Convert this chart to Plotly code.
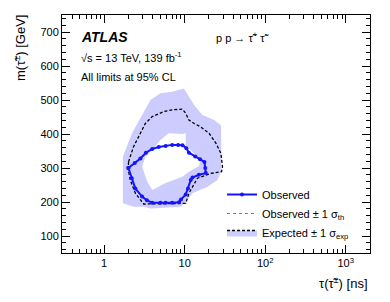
import plotly.graph_objects as go

# ---- data (tau lifetime [ns], stau mass [GeV]) ----
obs_tau = [2.0, 2.4, 2.82, 3.3, 3.95, 4.77, 5.8, 7.0, 8.3, 9.4, 10.5, 11.3, 13.5, 15.5, 17.6,
           18.0, 18.3, 15.0, 12.5, 11.9, 11.0, 10.3, 9.0, 8.5, 7.0, 5.8, 5.0, 3.95, 3.4, 2.96,
           2.44, 2.2, 2.0]
obs_mass = [300, 315, 328, 345, 356, 362, 365, 368, 368, 367, 358, 345, 334, 326, 318,
            300, 285, 280, 272, 265, 240, 222, 207, 199, 198, 198, 198, 198, 205, 216,
            240, 270, 300]

exp_tau = [2.01, 2.32, 2.82, 3.25, 3.95, 5.5, 7.0, 9.36, 10.3, 11.3, 13.1, 15.8, 20.1, 24.4,
           28.2, 29.5, 28.7, 21.1, 14.4, 12.5, 11.3, 10.3, 3.1, 2.44, 2.11, 2.0, 2.01]
exp_mass = [318, 363, 402, 431, 451, 466, 471, 473, 461, 441, 431, 421, 402, 373,
            343, 304, 289, 284, 270, 245, 226, 196, 194, 226, 265, 294, 318]

band_out_tau = [1.71, 1.71, 2.22, 2.96, 3.76, 5.0, 7.0, 9.8, 11.0, 13.1, 16.6, 23.2, 28.2,
                28.7, 28.7, 25.6, 19.2, 12.5, 10.8, 8.9, 3.76, 3.1, 2.33, 1.71]
band_out_mass = [196, 333, 402, 456, 500, 520, 524, 534, 515, 485, 456, 441, 426,
                 363, 294, 265, 245, 226, 206, 186, 181, 186, 186, 196]

band_in_tau = [2.96, 3.25, 3.95, 5.0, 6.36, 9.36, 10.3, 10.3, 12.6, 15.8, 15.0, 11.2, 9.36,
               5.79, 3.98, 3.45, 2.96]
band_in_mass = [304, 332, 353, 382, 402, 400, 402, 368, 347, 323, 306, 288, 274,
                256, 235, 259, 304]

x_major = [1, 10, 100, 1000]
x_major_labels = ["1", "10", "10<sup>2</sup>", "10<sup>3</sup>"]
x_minor = [0.3, 0.4, 0.5, 0.6, 0.7, 0.8, 0.9, 2, 3, 4, 5, 6, 7, 8, 9,
           20, 30, 40, 50, 60, 70, 80, 90, 200, 300, 400, 500, 600, 700, 800, 900, 2000]

LAV = "rgb(204,204,255)"
BLUE = "rgb(20,20,255)"
THBLUE = "rgb(110,110,255)"
FONT = "Liberation Sans"

fig = go.Figure()
fig.add_trace(go.Scatter(x=band_out_tau, y=band_out_mass, mode="lines", fill="toself",
                         fillcolor=LAV, line=dict(width=0, color=LAV), showlegend=False,
                         hoverinfo="skip"))
fig.add_trace(go.Scatter(x=band_in_tau, y=band_in_mass, mode="lines", fill="toself",
                         fillcolor="white", line=dict(width=0, color="white"), showlegend=False,
                         hoverinfo="skip"))
fig.add_trace(go.Scatter(x=exp_tau, y=exp_mass, mode="lines",
                         line=dict(color="black", width=1.3, dash="3px,2px"), showlegend=False))
fig.add_trace(go.Scatter(x=obs_tau, y=obs_mass, mode="lines",
                         line=dict(color=THBLUE, width=0.8, dash="dot"), showlegend=False))
fig.add_trace(go.Scatter(x=obs_tau, y=obs_mass, mode="lines+markers", name="Observed",
                         line=dict(color=BLUE, width=2), marker=dict(size=4, color=BLUE),
                         legendrank=1))
fig.add_trace(go.Scatter(x=[None], y=[None], mode="lines",
                         name="Observed ± 1 σ<sub>th</sub>",
                         line=dict(color=THBLUE, width=1, dash="dot"), legendrank=2))
fig.add_trace(go.Scatter(x=[None], y=[None], mode="lines", fill="toself", fillcolor=LAV,
                         name="Expected ± 1 σ<sub>exp</sub>",
                         line=dict(color="black", width=1.3, dash="3px,2px"), legendrank=3))

axis_common = dict(showgrid=False, zeroline=False, showline=True, linecolor="black",
                   linewidth=1, mirror="allticks", ticks="inside", tickcolor="black",
                   tickfont=dict(family=FONT, size=11, color="black"))

fig.update_xaxes(type="log", range=[-0.523, 3.301], tickvals=x_major, ticktext=x_major_labels,
                 ticklen=8,
                 minor=dict(tickmode="array", tickvals=x_minor, ticks="inside", ticklen=4,
                            tickcolor="black", showgrid=False),
                 **axis_common)
fig.update_yaxes(range=[50, 750], tickvals=[100, 200, 300, 400, 500, 600, 700], ticklen=8,
                 minor=dict(dtick=20, ticks="inside", ticklen=4, tickcolor="black",
                            showgrid=False),
                 **axis_common)

ann = [
    dict(text="<b><i>ATLAS</i></b>", x=79, y=37, size=14),
    dict(text="√s = 13 TeV, 139 fb<sup>-1</sup>", x=79, y=57, size=11),
    dict(text="All limits at 95% CL", x=79, y=77, size=11),
    dict(text="p p → τ̃<sup>+</sup> τ̃<sup>-</sup>", x=214, y=37, size=11),
]
W, H = 390, 302
L, R, T, B = 62, 20, 15, 49
pw, ph = W - L - R, H - T - B
for a in ann:
    fig.add_annotation(text=a["text"], xref="paper", yref="paper",
                       x=(a["x"] - L) / pw, y=1 - (a["y"] - T) / ph,
                       xanchor="left", yanchor="middle", showarrow=False,
                       font=dict(family=FONT, size=a["size"], color="black"))

fig.add_annotation(text="m(τ̃<sup>±</sup>) [GeV]", xref="paper", yref="paper",
                   x=-(L - 10) / pw, y=1 + 2 / ph, xanchor="left", yanchor="top",
                   textangle=-90, showarrow=False,
                   font=dict(family=FONT, size=13, color="black"))
fig.add_annotation(text="τ(τ̃<sup>±</sup>) [ns]", xref="paper", yref="paper",
                   x=1, y=-(283 - 253) / ph, xanchor="right", yanchor="middle",
                   showarrow=False, font=dict(family=FONT, size=13, color="black"))

fig.update_layout(
    width=W, height=H, margin=dict(l=L, r=R, t=T, b=B),
    paper_bgcolor="white", plot_bgcolor="white",
    legend=dict(x=(222 - L) / pw, y=1 - (180 - T) / ph, xanchor="left", yanchor="top",
                bgcolor="rgba(0,0,0,0)", font=dict(family=FONT, size=11, color="black"),
                tracegroupgap=0, itemwidth=30),
    font=dict(family=FONT),
)

fig.write_html("out.html", config={"displayModeBar": False},
               post_script="document.body.style.margin='0px';")
